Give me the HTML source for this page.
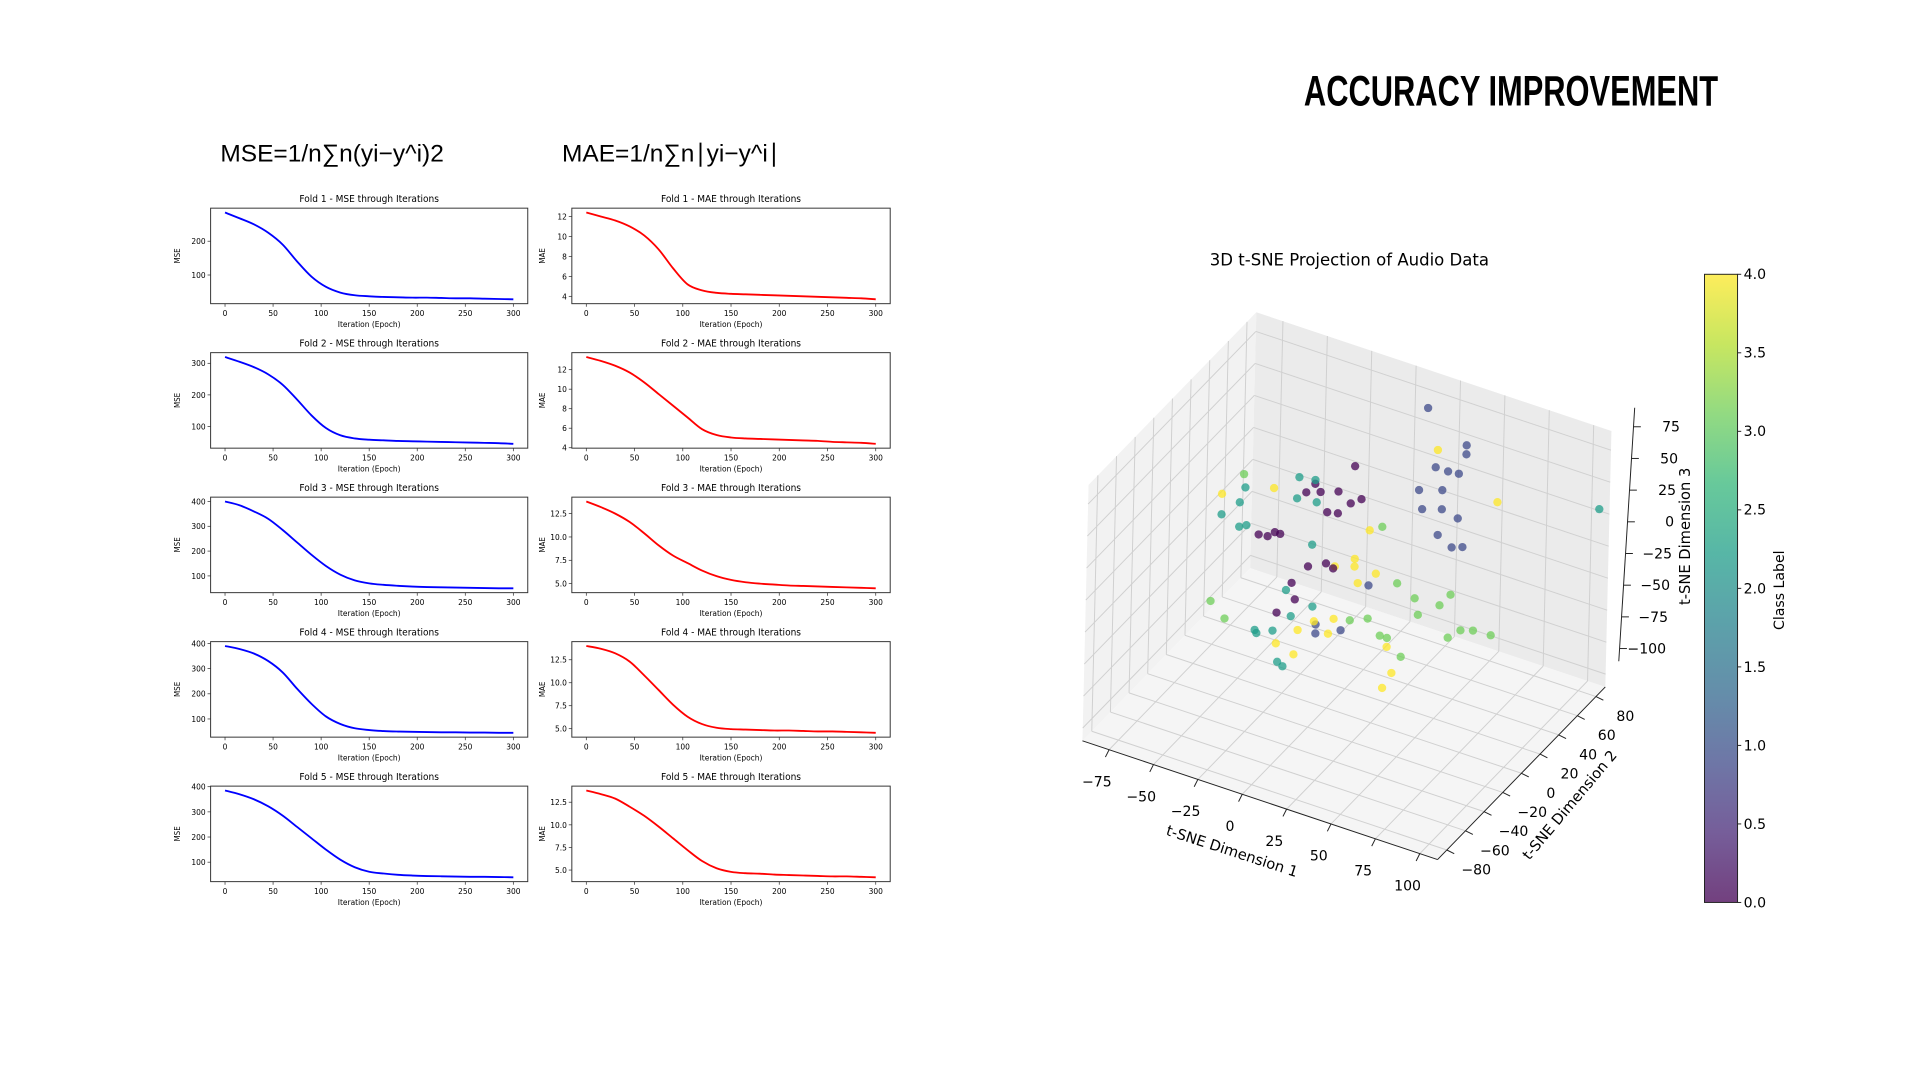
<!DOCTYPE html>
<html><head><meta charset="utf-8"><title>Accuracy Improvement</title>
<style>
html,body{margin:0;padding:0;background:#fff;width:1920px;height:1080px;overflow:hidden}
svg{display:block}
text{font-family:"DejaVu Sans","Liberation Sans",sans-serif}
.sm{font-family:"DejaVu Sans Condensed","Liberation Sans Narrow","Liberation Sans",sans-serif}
</style></head>
<body>
<svg id="root" width="1920" height="1080" viewBox="0 0 1568 882" preserveAspectRatio="none" xmlns="http://www.w3.org/2000/svg">
<rect width="1568" height="882" fill="#fff"/>
<text x="1234" y="86" text-anchor="middle" font-size="35" font-weight="bold" style="font-family:'Liberation Sans Narrow','Liberation Sans',sans-serif" transform="translate(1234 0) scale(0.72 1) translate(-1234 0)">ACCURACY IMPROVEMENT</text>
<text x="180" y="132" font-size="20" style="font-family:'Liberation Sans',sans-serif">MSE=1/n∑n(yi−y^i)2</text>
<text x="459" y="132" font-size="20" style="font-family:'Liberation Sans',sans-serif">MAE=1/n∑n∣yi−y^i∣</text>
<g id="folds"></g>
<g id="tsne"></g>
</svg>
<script>
// ---------- Fold line chart data ----------
const epochs = [0,15,30,45,60,75,90,105,120,135,150,165,180,195,210,225,240,255,270,285,300];
const xTicks = [0,50,100,150,200,250,300];
const mseFold1 = [285,268,250,225,190,140,95,65,48,40,37,35,34,33,33,32,31,31,30,29,28];
const mseFold2 = [320,305,288,265,232,185,135,95,72,62,58,56,54,53,52,51,50,49,48,47,45];
const mseFold3 = [400,385,360,330,285,235,185,140,105,82,70,64,60,57,55,54,53,52,51,50,50];
const mseFold4 = [390,378,360,330,285,220,160,110,80,63,56,52,50,49,48,47,47,46,46,45,45];
const mseFold5 = [385,370,350,322,285,240,195,150,110,80,62,55,50,47,45,44,43,42,42,41,40];
const maeFold1 = [12.4,12.0,11.6,11.0,10.1,8.7,6.8,5.2,4.6,4.35,4.25,4.2,4.15,4.1,4.05,4.0,3.95,3.9,3.85,3.8,3.7];
const maeFold2 = [13.3,12.9,12.4,11.7,10.7,9.5,8.3,7.1,5.9,5.3,5.05,4.95,4.9,4.85,4.8,4.75,4.7,4.6,4.55,4.5,4.4];
const maeFold3 = [13.8,13.2,12.5,11.6,10.4,9.1,8.0,7.2,6.4,5.8,5.4,5.15,5.0,4.9,4.8,4.75,4.7,4.65,4.6,4.55,4.5];
const maeFold4 = [14.0,13.7,13.2,12.3,10.8,9.2,7.6,6.3,5.5,5.1,4.95,4.9,4.85,4.8,4.8,4.75,4.7,4.7,4.65,4.6,4.55];
const maeFold5 = [13.8,13.4,12.9,12.0,11.0,9.8,8.5,7.2,6.0,5.2,4.8,4.65,4.6,4.5,4.45,4.4,4.35,4.3,4.3,4.25,4.2];
const mseTicks1 = [100,200];
const mseTicks2 = [100,200,300];
const mseTicks345 = [100,200,300,400];
const maeTicks12 = [4,6,8,10,12];
const maeTicks345 = [5,7.5,10,12.5];

// ---------- 3D scatter data ----------
const dim1 = [53,75,75,58,65,71,49,62,51,62,71,60,68,74,22,7,-7,-7,
 59,93,-61,-32,22,14,14,26,16,3,-8,0,-17,-29,-19,33,36,31,3,
 13,-9,-14,-6,4,11,17,-2,4,-40,-35,-31,-28,-12,-2,2,-21,-19,-29,
 -48,-51,-61,-18,-9,-8,-51,-47,-19,-10,-24,-9,-21,-41,-31,-28,-25,150,-40,
 -49,29,-66,-58,38,48,68,62,50,12,22,29,33,41,67,74,81,91];
const dim2 = dim1.map(()=>0);
const dim3 = [149,130,123,105,105,106,83,89,69,74,71,53,47,50,-4,-46,-48,-55,
 119,94,29,47,39,13,7,7,-5,2,-46,-52,-57,-73,-77,-47,-66,-80,-39,
 85,61,52,56,61,55,61,42,44,7,8,13,13,-5,2,0,-22,-34,-49,
 40,27,13,62,64,47,8,11,45,13,-29,-35,-48,-68,-64,-87,-89,115,-70,
 50,45,-57,-67,5,-2,10,-1,-14,-36,-30,-40,-40,-51,-24,-15,-12,-11];
const classLabel = [1,1,1,1,1,1,1,1,1,1,1,1,1,1,1,1,1,1,
 4,4,4,4,4,4,4,4,4,4,4,4,4,4,4,4,4,4,4,
 0,0,0,0,0,0,0,0,0,0,0,0,0,0,0,0,0,0,0,
 2,2,2,2,2,2,2,2,2,2,2,2,2,2,2,2,2,2,2,
 3,3,3,3,3,3,3,3,3,3,3,3,3,3,3,3,3,3];
const d1Ticks = [-75,-50,-25,0,25,50,75,100];
const d2Ticks = [-80,-60,-40,-20,0,20,40,60,80];
const d3Ticks = [-100,-75,-50,-25,0,25,50,75];
const cbTicks = [0,0.5,1,1.5,2,2.5,3,3.5,4];

const NS = "http://www.w3.org/2000/svg";
function mk(tag, attrs, parent, txt){
  const e = document.createElementNS(NS, tag);
  for (const k in attrs) e.setAttribute(k, attrs[k]);
  if (txt !== undefined) e.textContent = txt;
  parent.appendChild(e); return e;
}
function smoothPath(pts){
  let d = "M"+pts[0][0].toFixed(2)+","+pts[0][1].toFixed(2);
  for (let i=0;i<pts.length-1;i++){
    const p0=pts[Math.max(i-1,0)],p1=pts[i],p2=pts[i+1],p3=pts[Math.min(i+2,pts.length-1)];
    const c1=[p1[0]+(p2[0]-p0[0])/6,p1[1]+(p2[1]-p0[1])/6];
    const c2=[p2[0]-(p3[0]-p1[0])/6,p2[1]-(p3[1]-p1[1])/6];
    d+=" C"+c1[0].toFixed(2)+","+c1[1].toFixed(2)+" "+c2[0].toFixed(2)+","+c2[1].toFixed(2)+" "+p2[0].toFixed(2)+","+p2[1].toFixed(2);
  }
  return d;
}
function fmt(t){ return (t<0?"\u2212":"")+Math.abs(t); }

// ---------- Fold charts ----------
const folds = document.getElementById("folds");
const mseSeries=[mseFold1,mseFold2,mseFold3,mseFold4,mseFold5];
const maeSeries=[maeFold1,maeFold2,maeFold3,maeFold4,maeFold5];
const mseTickSets=[mseTicks1,mseTicks2,mseTicks345,mseTicks345,mseTicks345];
const maeTickSets=[maeTicks12,maeTicks12,maeTicks345,maeTicks345,maeTicks345];

function panel(r, c){
  const isMae = c===1;
  const data = isMae?maeSeries[r]:mseSeries[r];
  const ticks = isMae?maeTickSets[r]:mseTickSets[r];
  const name = isMae?"MAE":"MSE";
  const x0 = isMae?467:172, x1 = isMae?727:431;
  const y0 = 170+118*r, y1 = y0+78;
  const g = mk("g",{},folds);
  
  
  const lo=Math.min(...data), hi=Math.max(...data), pad=(hi-lo)*0.05;
  const yMin=lo-pad, yMax=hi+pad;
  const sx = v => x0+(v+15)/330*(x1-x0);
  const sy = v => y1-(v-yMin)/(yMax-yMin)*(y1-y0);
  const t = mk("text",{x:(x0+x1)/2,y:y0-5,"text-anchor":"middle","font-size":"8.2",class:"sm"},g,"Fold "+(r+1)+" - "+name+" through Iterations");
   
  const line = mk("path",{d:smoothPath(epochs.map((e,i)=>[sx(e),sy(data[i])])),fill:"none",stroke:isMae?"#ff0000":"#0000ff","stroke-width":"1.5"},g);
  
  
  const box = mk("rect",{x:x0,y:y0,width:x1-x0,height:y1-y0,fill:"none",stroke:"#333","stroke-width":"0.8"},g);
   
  xTicks.forEach(v=>{
    mk("line",{x1:sx(v),x2:sx(v),y1:y1,y2:y1+2.5,stroke:"#333","stroke-width":"0.6"},g);
    const l = mk("text",{x:sx(v),y:y1+10,"text-anchor":"middle","font-size":"6.8",class:"sm"},g,String(v));
     
  });
  ticks.forEach(v=>{
    mk("line",{x1:x0-2.5,x2:x0,y1:sy(v),y2:sy(v),stroke:"#333","stroke-width":"0.6"},g);
    const lab = (isMae && r>=2)? v.toFixed(1) : String(v);
    const l = mk("text",{x:x0-4,y:sy(v)+2.4,"text-anchor":"end","font-size":"6.8",class:"sm"},g,lab);
     
  });
  const xl = mk("text",{x:(x0+x1)/2,y:y1+19,"text-anchor":"middle","font-size":"6.8",class:"sm"},g,"Iteration (Epoch)");
   
  const yx = x0-(isMae?22:25), yy=(y0+y1)/2;
  const yl = mk("text",{x:yx,y:yy,"text-anchor":"middle","font-size":"6.5",class:"sm",transform:"rotate(-90 "+yx+" "+yy+")"},g,name);
   
}
for (let r=0;r<5;r++){ panel(r,0); panel(r,1); }

// ---------- 3D scatter ----------
const tsne = document.getElementById("tsne");
const X0=-90,X1=110,Y0=-90,Y1=90,Z0=-110,Z1=90;
const O=[884,605], EX=[290,97], EY=[137,-141], EZ=[5,-209];
function P(x,y,z){
  const u=(x-X0)/(X1-X0), v=(y-Y0)/(Y1-Y0), w=(z-Z0)/(Z1-Z0);
  return [O[0]+u*EX[0]+v*EY[0]+w*EZ[0], O[1]+u*EX[1]+v*EY[1]+w*EZ[1]];
}
function poly(pts,fill,name){
  const p = mk("polygon",{points:pts.map(q=>q.join(",")).join(" "),fill:fill,stroke:"none"},tsne);
  
  
}
poly([P(X0,Y0,Z0),P(X0,Y1,Z0),P(X0,Y1,Z1),P(X0,Y0,Z1)],"#f2f2f2","pane-left");
poly([P(X0,Y1,Z0),P(X1,Y1,Z0),P(X1,Y1,Z1),P(X0,Y1,Z1)],"#ebebeb","pane-back");
poly([P(X0,Y0,Z0),P(X1,Y0,Z0),P(X1,Y1,Z0),P(X0,Y1,Z0)],"#f5f5f5","pane-floor");
function gl(a,b){ mk("line",{x1:a[0],y1:a[1],x2:b[0],y2:b[1],stroke:"#d0d0d0","stroke-width":"0.8"},tsne); }
d1Ticks.forEach(t=>{ gl(P(t,Y0,Z0),P(t,Y1,Z0)); gl(P(t,Y1,Z0),P(t,Y1,Z1)); });
d2Ticks.forEach(t=>{ gl(P(X0,t,Z0),P(X1,t,Z0)); gl(P(X0,t,Z0),P(X0,t,Z1)); });
d3Ticks.forEach(t=>{ gl(P(X0,Y0,t),P(X0,Y1,t)); gl(P(X0,Y1,t),P(X1,Y1,t)); });
function axl(a,b){ mk("line",{x1:a[0],y1:a[1],x2:b[0],y2:b[1],stroke:"#222","stroke-width":"0.8"},tsne); }
axl(P(X0,Y0,Z0),P(X1,Y0,Z0)); axl(P(X1,Y0,Z0),P(X1,Y1,Z0));
const ZA=[1322,540], ZB=[1335,333];
const zAxis = t => { const f=(t-Z0)/(Z1-Z0); return [ZA[0]+f*(ZB[0]-ZA[0])-4, ZA[1]+f*(ZB[1]-ZA[1])+8]; };
axl([ZA[0],ZA[1]],[ZB[0],ZB[1]]);

const viridis = ["#440154","#482878","#3e4989","#31688e","#26828e","#1f9e89","#35b779","#6ece58","#b5de2b","#fde725"];
function vir(c){ const f=c/4*(viridis.length-1); return viridis[Math.round(f)]; }
dim1.forEach((x,i)=>{
  const p = P(x,dim2[i],dim3[i]);
  const dot = mk("circle",{cx:p[0].toFixed(1),cy:p[1].toFixed(1),r:"3.4",fill:vir(classLabel[i]),"fill-opacity":"0.75"},tsne);
  
  
});

d1Ticks.forEach(t=>{
  const p=P(t,Y0,Z0);
  mk("line",{x1:p[0],y1:p[1],x2:p[0]-3,y2:p[1]+6,stroke:"#222","stroke-width":"0.8"},tsne);
  const l=mk("text",{x:p[0]-10,y:p[1]+30,"text-anchor":"middle","font-size":"11.5"},tsne,fmt(t));
   
});
d2Ticks.forEach(t=>{
  const p=P(X1,t,Z0);
  mk("line",{x1:p[0],y1:p[1],x2:p[0]+6,y2:p[1]+3,stroke:"#222","stroke-width":"0.8"},tsne);
  const l=mk("text",{x:p[0]+24,y:p[1]+20,"text-anchor":"middle","font-size":"11.5"},tsne,fmt(t));
   
});
d3Ticks.forEach(t=>{
  const p=zAxis(t);
  mk("line",{x1:p[0]+4,y1:p[1]-8,x2:p[0]+10,y2:p[1]-8,stroke:"#222","stroke-width":"0.8"},tsne);
  const l=mk("text",{x:p[0]+42,y:p[1]-4,"text-anchor":"end","font-size":"11.5"},tsne,fmt(t));
   
});
let e;
e=mk("text",{x:1102,y:217,"text-anchor":"middle","font-size":"13.5"},tsne,"3D t-SNE Projection of Audio Data");
 
e=mk("text",{x:1005,y:699,"text-anchor":"middle","font-size":"12",transform:"rotate(18 1005 699)"},tsne,"t-SNE Dimension 1");
 
e=mk("text",{x:1285,y:660,"text-anchor":"middle","font-size":"12",transform:"rotate(-50 1285 660)"},tsne,"t-SNE Dimension 2");
 
e=mk("text",{x:1380,y:438,"text-anchor":"middle","font-size":"12",transform:"rotate(-90 1380 438)"},tsne,"t-SNE Dimension 3");
 

// colorbar
const defs = mk("defs",{},tsne);
const grad = mk("linearGradient",{id:"vg",x1:"0",y1:"1",x2:"0",y2:"0"},defs);
viridis.forEach((c,i)=>mk("stop",{offset:(i/(viridis.length-1)).toFixed(3),"stop-color":c,"stop-opacity":"0.75"},grad));
const CB={x:1392,y0:224,y1:737,w:27};
e=mk("rect",{x:CB.x,y:CB.y0,width:CB.w,height:CB.y1-CB.y0,fill:"url(#vg)",stroke:"#222","stroke-width":"0.8"},tsne);
 
cbTicks.forEach(t=>{
  const y=CB.y1-t/4*(CB.y1-CB.y0);
  mk("line",{x1:CB.x+CB.w,x2:CB.x+CB.w+3,y1:y,y2:y,stroke:"#222","stroke-width":"0.8"},tsne);
  const l=mk("text",{x:CB.x+CB.w+5,y:y+4,"font-size":"11.5"},tsne,t.toFixed(1));
   
});
e=mk("text",{x:1457,y:482,"text-anchor":"middle","font-size":"11.5",transform:"rotate(-90 1457 482)"},tsne,"Class Label");
 
</script>
</body></html>
